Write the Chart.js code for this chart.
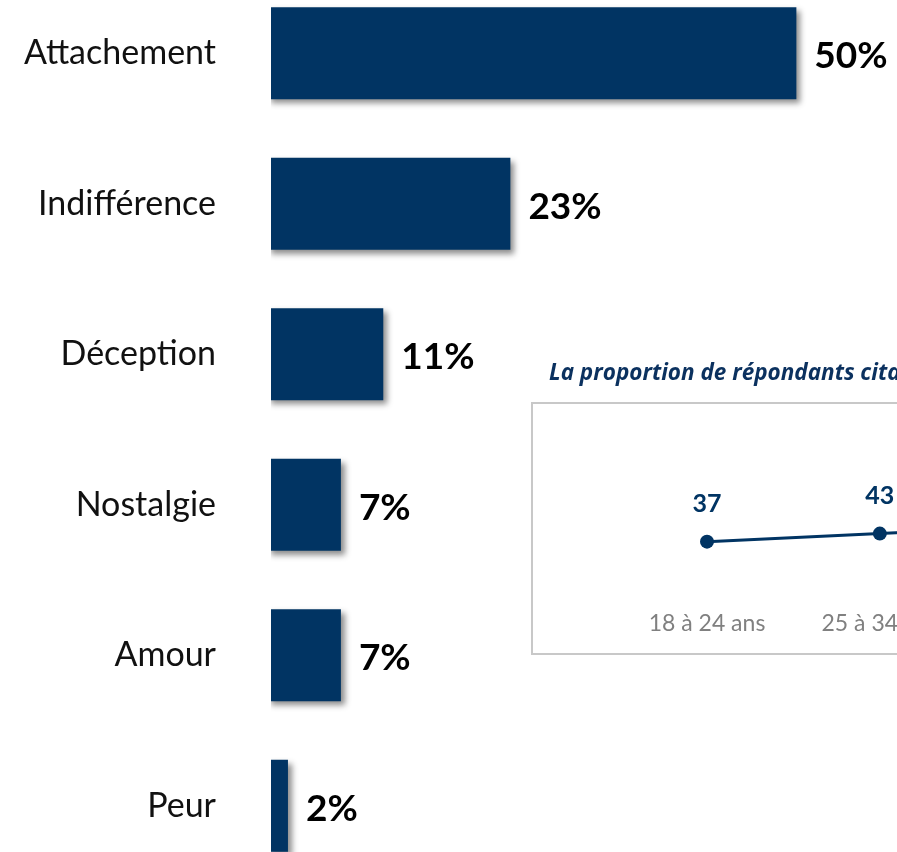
<!DOCTYPE html>
<html>
<head>
<meta charset="utf-8">
<script src="https://cdn.jsdelivr.net/npm/chart.js@4/dist/chart.umd.min.js"></script>
<style>
  html, body { margin:0; padding:0; width:897px; height:852px; overflow:hidden; background:#fff; position:relative; }
  #main { position:absolute; left:0; top:-22px; }
  #insetTitle { position:absolute; left:549px; top:359px; white-space:nowrap; font-family:"Open Sans", Lato, sans-serif; font-weight:700; font-style:italic; font-size:22.5px; line-height:26px; color:#0b315f; }
  #insetBox { position:absolute; left:531px; top:402px; width:600px; height:253px; box-sizing:border-box; border:2px solid #c8c8c8; background:#fff; }
  #inset { position:absolute; left:0; top:0; }
</style>
</head>
<body>
<canvas id="main" width="897" height="903"></canvas>
<div id="insetTitle">La proportion de répondants citant l'attachement selon l'âge</div>
<div id="insetBox"><canvas id="inset" width="596" height="260"></canvas></div>
<script>
// ---- data ----
const categories = ['Attachement', 'Indifférence', 'Déception', 'Nostalgie', 'Amour', 'Peur'];
const shares = [50, 23, 11, 7, 7, 2];
const ageGroups = ['18 à 24 ans', '25 à 34 ans', '35 à 44 ans'];
const ageValues = [37, 43, 49];

const NAVY = '#013463';
const FONT = 'Lato, "Open Sans", sans-serif';

const barDecor = {
  id: 'barDecor',
  beforeDatasetsDraw(chart) {
    const ctx = chart.ctx;
    ctx.save();
    ctx.shadowColor = 'rgba(0,0,0,0.45)';
    ctx.shadowBlur = 6;
    ctx.shadowOffsetX = 4;
    ctx.shadowOffsetY = 4;
  },
  afterDatasetsDraw(chart) {
    const ctx = chart.ctx;
    ctx.restore();
    const meta = chart.getDatasetMeta(0);
    ctx.save();
    ctx.font = 'bold 37px ' + FONT;
    ctx.fillStyle = '#000';
    ctx.textAlign = 'left';
    ctx.textBaseline = 'middle';
    meta.data.forEach((el, i) => {
      ctx.fillText(shares[i] + '%', el.x + 18, el.y + 3);
    });
    ctx.restore();
  }
};

new Chart(document.getElementById('main'), {
  type: 'bar',
  data: {
    labels: categories,
    datasets: [{
      data: shares,
      backgroundColor: NAVY,
      borderWidth: 0,
      categoryPercentage: 1,
      barPercentage: 0.612,
      clip: 0
    }]
  },
  options: {
    indexAxis: 'y',
    responsive: false,
    animation: false,
    layout: { padding: 0 },
    plugins: { legend: { display: false }, tooltip: { enabled: false } },
    scales: {
      x: { display: false, min: 0.4, max: 59.5 },
      y: {
        grid: { display: false, drawTicks: false },
        border: { display: false },
        ticks: { font: { family: FONT, size: 34 }, color: '#111', padding: 55 },
        afterFit(s) { s.width = 271; s.paddingTop = 0; s.paddingBottom = 0; }
      }
    }
  },
  plugins: [barDecor]
});

const lineLabels = {
  id: 'lineLabels',
  afterDatasetsDraw(chart) {
    const ctx = chart.ctx;
    const meta = chart.getDatasetMeta(0);
    ctx.save();
    ctx.font = 'bold 25px ' + FONT;
    ctx.fillStyle = NAVY;
    ctx.textAlign = 'center';
    ctx.textBaseline = 'middle';
    meta.data.forEach((el, i) => {
      ctx.fillText(String(ageValues[i]), el.x, el.y - 38);
    });
    ctx.restore();
  }
};

new Chart(document.getElementById('inset'), {
  type: 'line',
  data: {
    labels: ageGroups,
    datasets: [{
      data: ageValues,
      borderColor: NAVY,
      backgroundColor: NAVY,
      borderWidth: 3,
      pointRadius: 7,
      pointBackgroundColor: NAVY,
      pointBorderWidth: 0,
      tension: 0,
      clip: false
    }]
  },
  options: {
    responsive: false,
    animation: false,
    layout: { padding: { left: 174, right: 76, top: 53, bottom: 9 } },
    plugins: { legend: { display: false }, tooltip: { enabled: false } },
    scales: {
      x: {
        offset: false,
        grid: { display: false, drawTicks: false },
        border: { display: false },
        ticks: { font: { family: FONT, size: 23 }, color: '#808080', padding: 18, maxRotation: 0, autoSkip: false }
      },
      y: { display: false, min: 0, max: 100 }
    }
  },
  plugins: [lineLabels]
});
</script>
</body>
</html>
